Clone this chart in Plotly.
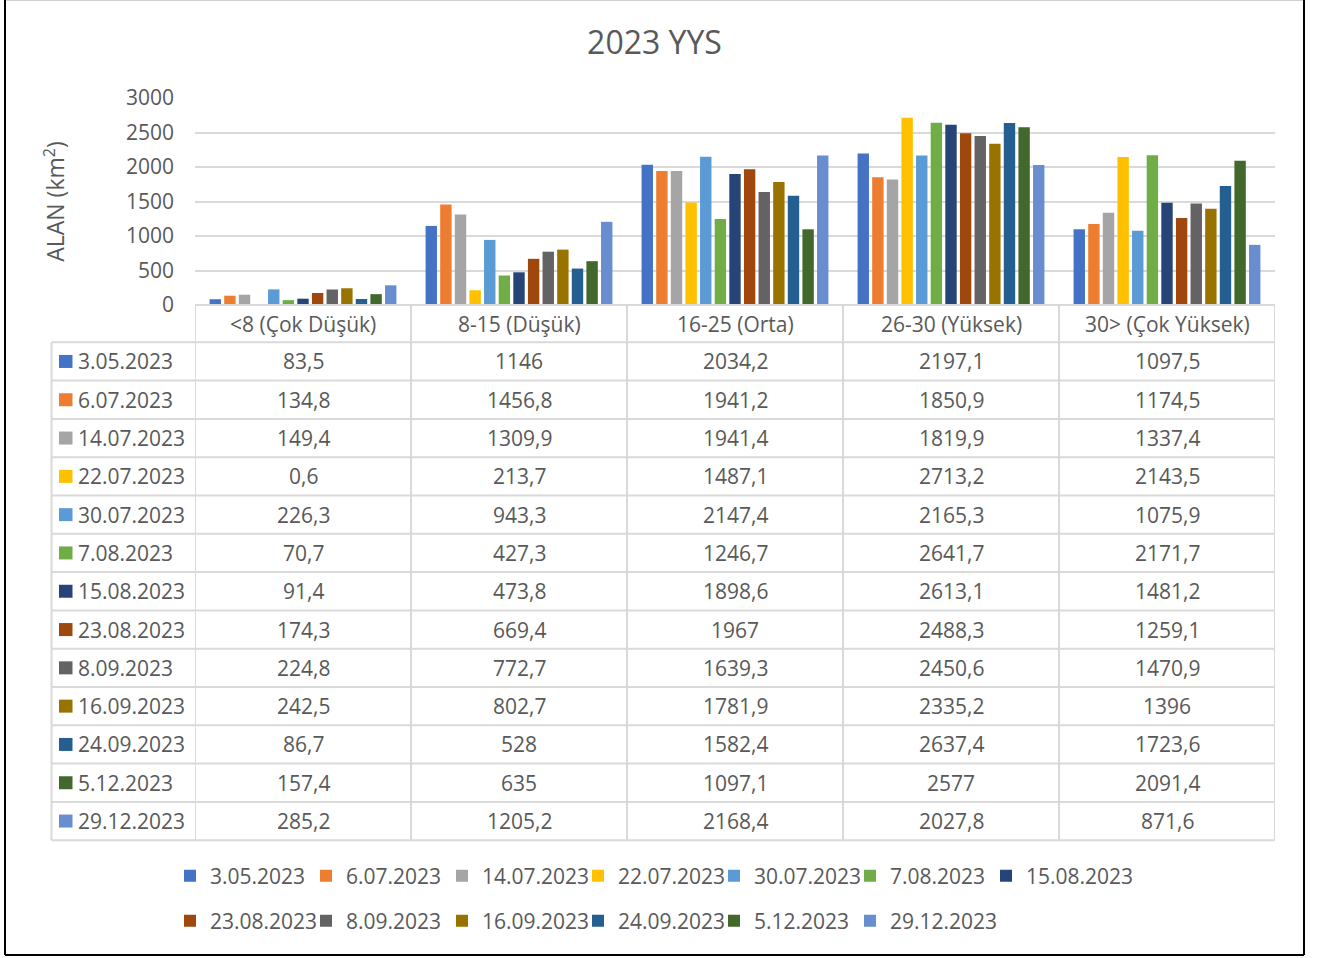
import plotly.graph_objects as go

# ---- data -------------------------------------------------------------
categories = ["<8 (Çok Düşük)", "8-15 (Düşük)", "16-25 (Orta)",
              "26-30 (Yüksek)", "30> (Çok Yüksek)"]

dates = ["3.05.2023", "6.07.2023", "14.07.2023", "22.07.2023", "30.07.2023",
         "7.08.2023", "15.08.2023", "23.08.2023", "8.09.2023", "16.09.2023",
         "24.09.2023", "5.12.2023", "29.12.2023"]

v_2023_05_03 = [83.5, 1146, 2034.2, 2197.1, 1097.5]
v_2023_07_06 = [134.8, 1456.8, 1941.2, 1850.9, 1174.5]
v_2023_07_14 = [149.4, 1309.9, 1941.4, 1819.9, 1337.4]
v_2023_07_22 = [0.6, 213.7, 1487.1, 2713.2, 2143.5]
v_2023_07_30 = [226.3, 943.3, 2147.4, 2165.3, 1075.9]
v_2023_08_07 = [70.7, 427.3, 1246.7, 2641.7, 2171.7]
v_2023_08_15 = [91.4, 473.8, 1898.6, 2613.1, 1481.2]
v_2023_08_23 = [174.3, 669.4, 1967, 2488.3, 1259.1]
v_2023_09_08 = [224.8, 772.7, 1639.3, 2450.6, 1470.9]
v_2023_09_16 = [242.5, 802.7, 1781.9, 2335.2, 1396]
v_2023_09_24 = [86.7, 528, 1582.4, 2637.4, 1723.6]
v_2023_12_05 = [157.4, 635, 1097.1, 2577, 2091.4]
v_2023_12_29 = [285.2, 1205.2, 2168.4, 2027.8, 871.6]

series = [v_2023_05_03, v_2023_07_06, v_2023_07_14, v_2023_07_22,
          v_2023_07_30, v_2023_08_07, v_2023_08_15, v_2023_08_23,
          v_2023_09_08, v_2023_09_16, v_2023_09_24, v_2023_12_05,
          v_2023_12_29]

y_ticks = [0, 500, 1000, 1500, 2000, 2500, 3000]

colors = ["#4472C4", "#ED7D31", "#A5A5A5", "#FFC000", "#5B9BD5", "#70AD47",
          "#264478", "#9E480E", "#636363", "#997300", "#255E91", "#43682B",
          "#698ED0"]

# ---- layout geometry (pixels) ----------------------------------------
W, H = 1321, 958
PL, PR, PT, PB = 195, 1275, 98, 305       # plot area box
ROW_TOP, ROW_H = 342.3, 38.3              # data-table rows
LABEL_LEFT = 51.5                          # left edge of the series-name column
LEG_LEFT, LEG_STEP, LEG_PER_ROW = 170, 136, 7
LEG_ROWS_Y = [876, 921]
TEXT = "#595959"
GRID = "#D9D9D9"
FONT = "Open Sans"
FS = 21


def fx(px):
    return (px - PL) / (PR - PL)


def fy(py):
    return (PB - py) / (PB - PT)


def fmt(v):
    return f"{v:g}".replace(".", ",")


fig = go.Figure()
legends = {}

for i, (name, vals) in enumerate(zip(dates, series)):
    key = "legend" if i == 0 else f"legend{i + 1}"
    row, col = divmod(i, LEG_PER_ROW)
    legends[key] = dict(
        orientation="h", xref="container", yref="container",
        x=(LEG_LEFT + col * LEG_STEP) / W, xanchor="left",
        y=1 - LEG_ROWS_Y[row] / H, yanchor="middle",
        font=dict(family=FONT, size=FS, color=TEXT),
        bgcolor="rgba(0,0,0,0)",
    )
    fig.add_trace(go.Bar(
        x=categories, y=vals, name=name,
        marker=dict(color=colors[i], line=dict(width=0)),
        legend=key,
    ))

shapes = []
annotations = []
n_rows = len(dates)
table_bottom = ROW_TOP + n_rows * ROW_H
cell_font = dict(family=FONT, size=FS, color=TEXT)

# table grid: axis line / header top
shapes.append(dict(type="line", xref="paper", yref="paper",
                   x0=0, x1=1, y0=fy(PB), y1=fy(PB),
                   line=dict(color=GRID, width=2)))
# horizontal row lines
for r in range(n_rows + 1):
    yy = fy(ROW_TOP + r * ROW_H)
    shapes.append(dict(type="line", xref="paper", yref="paper",
                       x0=fx(LABEL_LEFT), x1=1, y0=yy, y1=yy,
                       line=dict(color=GRID, width=2)))
# vertical column lines on category boundaries
for c in range(len(categories) + 1):
    shapes.append(dict(type="line", xref="x", yref="paper",
                       x0=c - 0.5, x1=c - 0.5, y0=fy(PB), y1=fy(table_bottom),
                       line=dict(color=GRID, width=2)))
shapes.append(dict(type="line", xref="paper", yref="paper",
                   x0=fx(LABEL_LEFT), x1=fx(LABEL_LEFT),
                   y0=fy(ROW_TOP), y1=fy(table_bottom),
                   line=dict(color=GRID, width=2)))

# header cells
for cat in categories:
    annotations.append(dict(x=cat, xref="x", y=fy((PB + ROW_TOP) / 2), yref="paper",
                            xanchor="center", yanchor="middle",
                            text=cat, showarrow=False, font=cell_font))

# data rows
for r, (name, vals) in enumerate(zip(dates, series)):
    cy = ROW_TOP + (r + 0.5) * ROW_H
    shapes.append(dict(type="rect", xref="paper", yref="paper",
                       x0=fx(59), x1=fx(72.5), y0=fy(cy - 6.5), y1=fy(cy + 6.5),
                       fillcolor=colors[r], line=dict(width=0)))
    annotations.append(dict(x=fx(76), xref="paper", y=fy(cy), yref="paper",
                            xanchor="left", yanchor="middle",
                            text=name, showarrow=False, font=cell_font))
    for cat, v in zip(categories, vals):
        annotations.append(dict(x=cat, xref="x", y=fy(cy), yref="paper",
                                xanchor="center", yanchor="middle",
                                text=fmt(v), showarrow=False, font=cell_font))

# outer chart frame
shapes += [
    dict(type="line", xref="paper", yref="paper", x0=fx(5), x1=fx(1304),
         y0=fy(0.5), y1=fy(0.5), line=dict(color="#D0D0D0", width=1)),
    dict(type="line", xref="paper", yref="paper", x0=fx(5), x1=fx(5),
         y0=fy(0), y1=fy(955), line=dict(color="black", width=2)),
    dict(type="line", xref="paper", yref="paper", x0=fx(1304), x1=fx(1304),
         y0=fy(0), y1=fy(955), line=dict(color="black", width=2)),
    dict(type="line", xref="paper", yref="paper", x0=fx(5), x1=fx(1304),
         y0=fy(955), y1=fy(955), line=dict(color="black", width=2)),
]

fig.update_layout(
    width=W, height=H,
    margin=dict(l=PL, r=W - PR, t=PT, b=H - PB, autoexpand=False),
    paper_bgcolor="white", plot_bgcolor="white",
    title=dict(text="2023 YYS", x=654.5 / W, xref="container", xanchor="center",
               y=1 - 43 / H, yref="container", yanchor="middle",
               font=dict(family=FONT, size=32, color=TEXT)),
    bargap=0.12, bargroupgap=0.22,
    separators=",.",
    xaxis=dict(type="category", categoryorder="array", categoryarray=categories,
               range=[-0.5, len(categories) - 0.5], showticklabels=False,
               showgrid=False, zeroline=False, showline=False, ticks=""),
    yaxis=dict(range=[0, 3000], tickvals=y_ticks, showgrid=True,
               gridcolor=GRID, gridwidth=1.5, zeroline=False, showline=False,
               ticks="", ticklabelstandoff=20,
               tickfont=dict(family=FONT, size=FS, color=TEXT),
               title=dict(text="ALAN (km<sup>2</sup>)", standoff=54,
                          font=dict(family=FONT, size=23, color=TEXT))),
    shapes=shapes, annotations=annotations,
    showlegend=True,
    **legends,
)

fig.write_html("out.html")
